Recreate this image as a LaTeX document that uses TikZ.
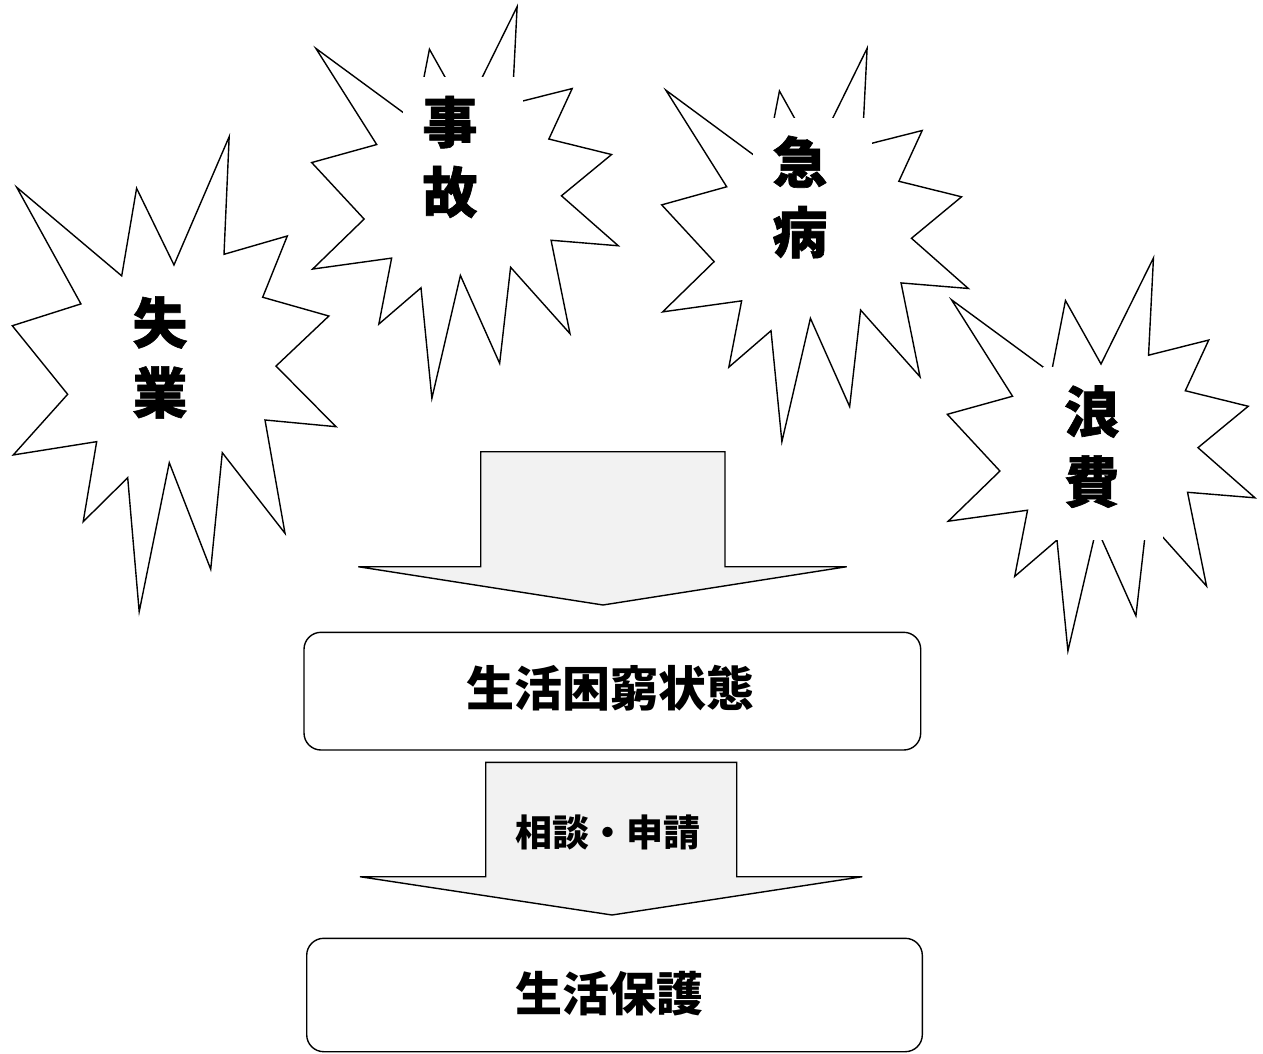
\documentclass[tikz,border=0pt]{standalone}
\usepackage{fontspec}
\newfontfamily\cjk{Noto Sans CJK JP}
\newfontfamily\cjkheavy{Noto Sans CJK JP}[FakeBold=1.1]
\definecolor{arrowfill}{HTML}{F2F2F2}
\newcommand\burst[4]{%
  \draw[burstline]
  ({#1+0.0136*#3},{#2+0.1065*#4}) -- ({#1+0.338*#3},{#2+0.293*#4}) --
  ({#1+0.384*#3},{#2+0.1086*#4}) -- ({#1+0.4995*#3},{#2+0.270*#4}) --
  ({#1+0.670*#3},{#2}) -- ({#1+0.654*#3},{#2+0.2476*#4}) --
  ({#1+0.8496*#3},{#2+0.209*#4}) -- ({#1+0.7735*#3},{#2+0.338*#4}) --
  ({#1+0.978*#3},{#2+0.3775*#4}) -- ({#1+0.8146*#3},{#2+0.4829*#4}) --
  ({#1+#3},{#2+0.6105*#4}) -- ({#1+0.7807*#3},{#2+0.5964*#4}) --
  ({#1+0.8425*#3},{#2+0.835*#4}) -- ({#1+0.6487*#3},{#2+0.6653*#4}) --
  ({#1+0.613*#3},{#2+0.9107*#4}) -- ({#1+0.485*#3},{#2+0.6863*#4}) --
  ({#1+0.392*#3},{#2+#4}) -- ({#1+0.3565*#3},{#2+0.7179*#4}) --
  ({#1+0.219*#3},{#2+0.8105*#4}) -- ({#1+0.2607*#3},{#2+0.642*#4}) --
  ({#1+0.003*#3},{#2+0.670*#4}) -- ({#1+0.171*#3},{#2+0.5423*#4}) --
  ({#1},{#2+0.398*#4}) -- ({#1+0.212*#3},{#2+0.352*#4}) -- cycle;}
\begin{document}
\begin{tikzpicture}[x=1pt,y=-1pt,
  burstline/.style={draw=black,fill=white,line width=1.4pt,line join=miter},
  mask/.style={fill=white,draw=none},
  bursttext/.style={font=\cjkheavy\bfseries\fontsize{55}{70}\selectfont,align=center,inner sep=0pt},
  blockarrow/.style={draw=black,fill=arrowfill,line width=1.4pt},
  statebox/.style={draw=black,line width=1.4pt,rounded corners=17pt}]
\useasboundingbox (0,0) rectangle (1263,1054);
\fill[white] (0,0) rectangle (1263,1054);
% bursts
\burst{12.3}{136.7}{323.7}{475}
\fill[mask] (113,278) rectangle (233,451);
\node[bursttext] (shitsugyo) at (160,357.5) {失\\業};
\burst{311.7}{6.7}{306.6}{391.6}
\fill[mask] (403,77) rectangle (523,250);
\node[bursttext] (jiko) at (450,157) {事\\故};
\burst{661.7}{48.3}{306.6}{393.4}
\fill[mask] (752.7,118.3) rectangle (872.3,291);
\node[bursttext] (kyubyo) at (800,197) {急\\病};
\burst{947.3}{257.9}{307.7}{393}
\fill[mask] (1043,367) rectangle (1163,540);
\node[bursttext] (rohi) at (1091.7,446.7) {浪\\費};
% arrow 1
\draw[blockarrow] (480.7,451.7) -- (725,451.7) -- (725,566.7) -- (846.7,566.7)
  -- (603,605) -- (358.3,566.7) -- (480.7,566.7) -- cycle;
% box 1
\draw[statebox] (304,632.3) rectangle (920.7,750);
\node[font=\cjk\bfseries\fontsize{48}{56}\selectfont,inner sep=0pt] (konkyu) at (610,688.5) {生活困窮状態};
% arrow 2
\draw[blockarrow] (485.7,762.3) -- (736.7,762.3) -- (736.7,876.7) -- (862.3,876.7)
  -- (612,915) -- (360,876.7) -- (485.7,876.7) -- cycle;
\node[font=\cjk\bfseries\fontsize{37}{44}\selectfont,inner sep=0pt] (shinsei) at (608,832.5) {相談・申請};
% box 2
\draw[statebox] (306.7,938.3) rectangle (922.3,1051.7);
\node[font=\cjk\bfseries\fontsize{47}{56}\selectfont,inner sep=0pt] (hogo) at (609,993.5) {生活保護};
\end{tikzpicture}
\end{document}
